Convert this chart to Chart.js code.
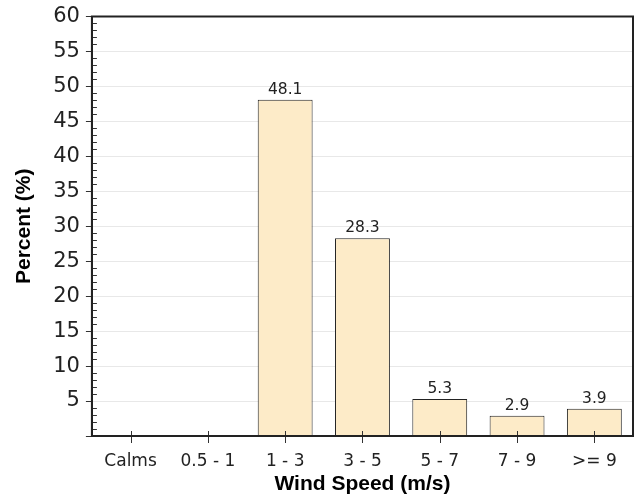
<!DOCTYPE html>
<html>
<head>
<meta charset="utf-8">
<script src="https://cdn.jsdelivr.net/npm/chart.js@4"></script>
<style>
  html, body { margin: 0; padding: 0; background: #fff; }
  #wrap { width: 636px; height: 502px; }
</style>
</head>
<body>
<div id="wrap"><canvas id="chart" width="636" height="502"></canvas></div>
<script>
const categories = ['Calms', '0.5 - 1', '1 - 3', '3 - 5', '5 - 7', '7 - 9', '>= 9'];
const percents = [0, 0, 48.1, 28.3, 5.3, 2.9, 3.9];
const valueLabels = ['', '', '48.1', '28.3', '5.3', '2.9', '3.9'];

// minor ticks, category ticks, frame and value labels
const extras = {
  id: 'extras',
  afterDraw(chart) {
    const { ctx, chartArea: a, scales: { x, y } } = chart;
    ctx.save();
    ctx.strokeStyle = '#333';
    ctx.lineWidth = 1;
    for (let v = 1; v < 60; v++) {
      if (v % 5 === 0) continue;
      const py = Math.round(y.getPixelForValue(v)) + 0.5;
      ctx.beginPath(); ctx.moveTo(a.left, py); ctx.lineTo(a.left + 5, py); ctx.stroke();
    }
    categories.forEach((c, i) => {
      const px = Math.round(x.getPixelForValue(i)) + 0.5;
      ctx.beginPath(); ctx.moveTo(px, a.bottom - 5); ctx.lineTo(px, a.bottom + 7); ctx.stroke();
    });
    ctx.lineWidth = 2;
    ctx.strokeStyle = '#222';
    ctx.strokeRect(a.left, a.top, a.right - a.left, a.bottom - a.top);

    ctx.fillStyle = '#222';
    ctx.font = '15.5px "DejaVu Sans"';
    ctx.textAlign = 'center';
    ctx.textBaseline = 'alphabetic';
    const meta = chart.getDatasetMeta(0);
    meta.data.forEach((bar, i) => {
      if (!valueLabels[i]) return;
      ctx.fillText(valueLabels[i], bar.x, bar.y - 6);
    });
    ctx.restore();
  }
};

new Chart(document.getElementById('chart'), {
  type: 'bar',
  data: {
    labels: categories,
    datasets: [{
      data: percents,
      backgroundColor: '#fdebc8',
      borderColor: '#222',
      borderWidth: 1,
      barPercentage: 0.71,
      categoryPercentage: 1
    }]
  },
  options: {
    responsive: false,
    animation: false,
    layout: { padding: { top: 5, right: 3, left: 12, bottom: 2 } },
    plugins: { legend: { display: false }, tooltip: { enabled: false } },
    scales: {
      x: {
        grid: { display: false, drawOnChartArea: false, tickLength: 13, tickColor: 'rgba(0,0,0,0)' },
        border: { color: '#222', width: 2 },
        ticks: { color: '#222', font: { family: 'DejaVu Sans', size: 17, lineHeight: 1 }, padding: 4, maxRotation: 0 },
        title: { display: true, text: 'Wind Speed (m/s)', color: '#000', font: { family: 'Liberation Sans', size: 21, weight: 'bold', lineHeight: 1 }, padding: { top: 0, bottom: 5 } }
      },
      y: {
        min: 0, max: 60,
        grid: { color: '#e8e8e8', tickLength: 6, tickColor: '#333' },
        border: { color: '#222', width: 2 },
        ticks: {
          stepSize: 5,
          color: '#222',
          font: { family: 'DejaVu Sans', size: 21, lineHeight: 1 },
          padding: 6,
          callback: v => v === 0 ? '' : v
        },
        title: { display: true, text: 'Percent (%)', color: '#000', font: { family: 'Liberation Sans', size: 21, weight: 'bold' }, padding: { top: 0, bottom: 10 } }
      }
    }
  },
  plugins: [extras]
});
</script>
</body>
</html>
